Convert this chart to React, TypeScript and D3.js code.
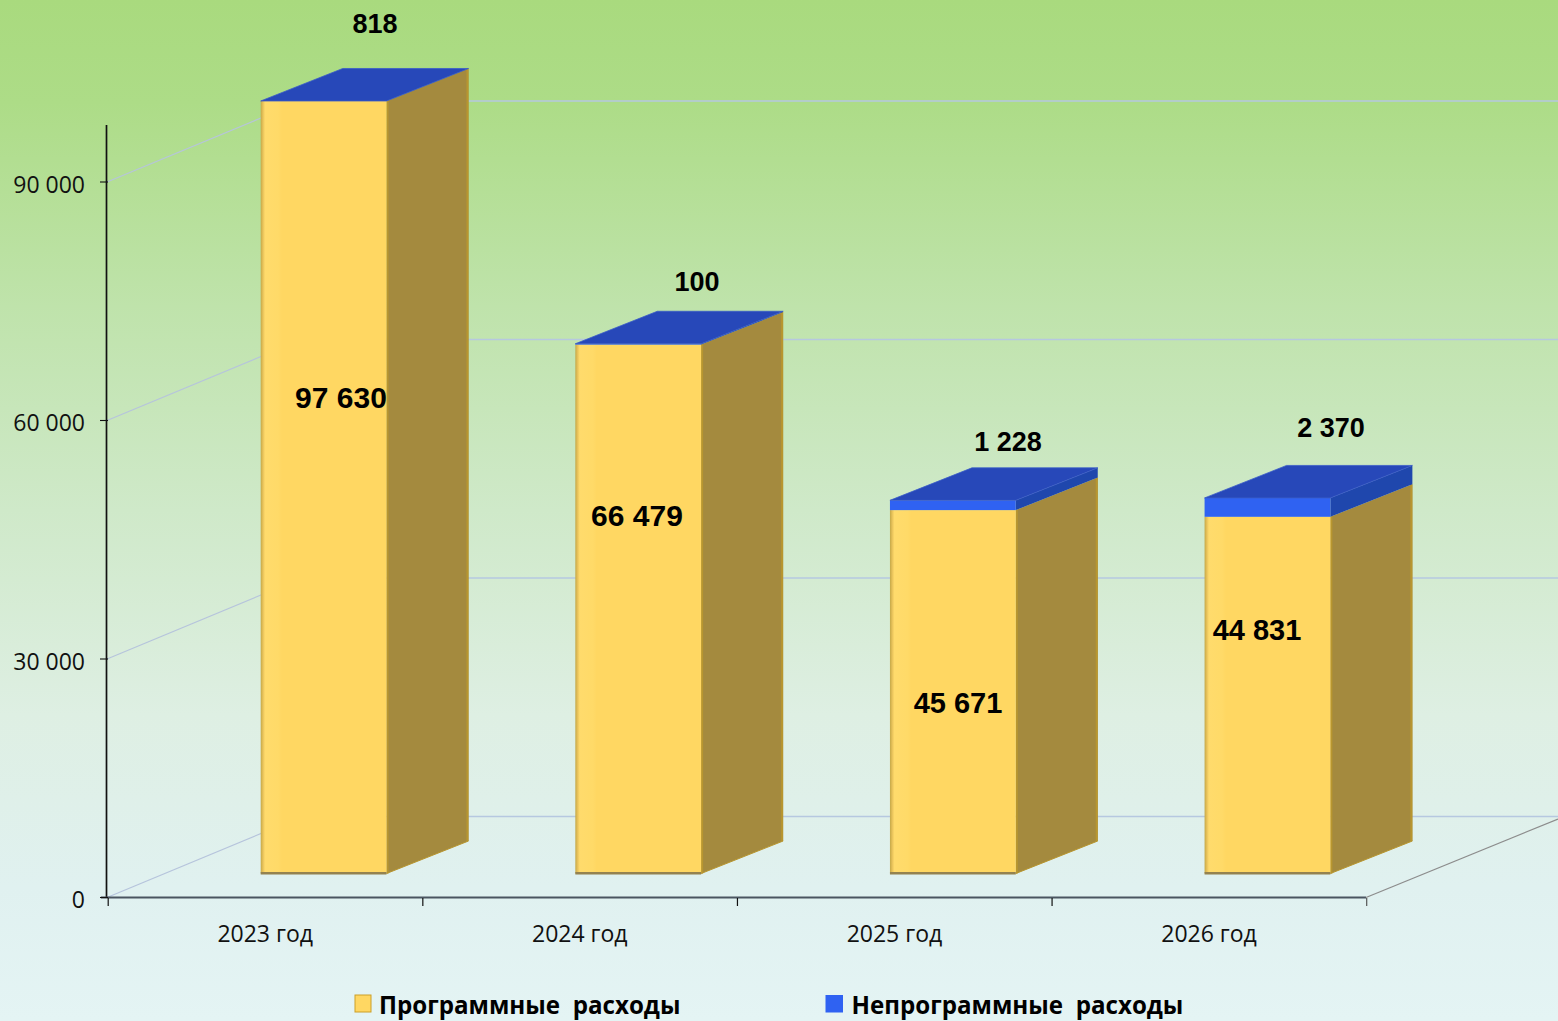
import React from "react";
import * as d3 from "d3";

const categories = ["2023 год", "2024 год", "2025 год", "2026 год"];
const programValues = [97630, 66479, 45671, 44831];
const nonProgramValues = [818, 100, 1228, 2370];
const yTicks = [0, 30000, 60000, 90000];
const seriesNames = ["Программные  расходы", "Непрограммные  расходы"];
const bigLabelPos: [number, number][] = [[341, 408], [637, 526], [958, 713], [1257, 640]];
const bigLabelSize = [30, 30, 29, 29];
const smallLabelPos: [number, number][] = [[375, 33], [697, 291], [1008, 451], [1331, 437]];

const W = 1558, H = 1021;
const AXIS_CLIP = 97090; // the value axis ends here: taller stacks are cut off
const x = d3.scaleBand<string>().domain(categories).range([108.5, 1367]);
const y = d3.scaleLinear().domain([0, 30000]).range([897.5, 659]);
const barY = d3.scaleLinear().domain([0, 30000]).range([873.5, 634.8]);
const fmt = (v: number) => d3.format(",")(v).replace(/,/g, " ");

const wallDx = 195, wallDy = -81;
const barOffset = 152.2, barW = 125.8, depthDx = 82, depthDy = -32.5;

const poly = (pts: number[][]) => pts.map(p => p.join(",")).join(" ");

function Box({ x0, top, bot, side, frontFill, edge }: any) {
  const x1 = x0 + barW;
  return (
    <g>
      <polygon points={poly([[x1, top], [x1 + depthDx, top + depthDy], [x1 + depthDx, bot + depthDy], [x1, bot]])} fill={side} />
      {edge && <line x1={x1 + depthDx - 1} y1={top + depthDy} x2={x1 + depthDx - 1} y2={bot + depthDy} stroke={edge} strokeWidth={2} />}
      {edge && <line x1={x1 + 1} y1={top} x2={x1 + 1} y2={bot} stroke={edge} strokeWidth={2} />}
      {edge && <line x1={x1} y1={bot} x2={x1 + depthDx} y2={bot + depthDy} stroke={edge} strokeWidth={1} />}
      <rect x={x0} y={top} width={barW} height={bot - top} fill={frontFill} />
    </g>
  );
}

export default function App() {
  const bars = categories.map((c, i) => {
    const x0 = x(c)! + barOffset;
    const h = (v: number) => barY(Math.min(v, AXIS_CLIP));
    return {
      c, i, x0,
      bot: h(0),
      yTop: h(programValues[i]),
      bTop: h(programValues[i] + nonProgramValues[i]),
    };
  });
  return (
    <svg width={W} height={H} style={{ position: "fixed", left: 0, top: 0 }}>
      <defs>
        <linearGradient id="bg" x1="0" y1="0" x2="0" y2="1">
          <stop offset="0" stopColor="#a9da7e" />
          <stop offset="0.1" stopColor="#addc87" />
          <stop offset="0.3" stopColor="#bfe3ab" />
          <stop offset="0.5" stopColor="#cfe9c9" />
          <stop offset="0.7" stopColor="#deefe3" />
          <stop offset="0.87" stopColor="#e0f1f0" />
          <stop offset="1" stopColor="#e4f4f4" />
        </linearGradient>
        <linearGradient id="yel" x1="0" y1="0" x2="1" y2="0">
          <stop offset="0" stopColor="#c4a848" />
          <stop offset="0.018" stopColor="#e8c25a" />
          <stop offset="0.035" stopColor="#ffdb6c" />
          <stop offset="0.14" stopColor="#ffda68" />
          <stop offset="0.17" stopColor="#ffd762" />
          <stop offset="1" stopColor="#ffd762" />
        </linearGradient>
      </defs>
      <rect width={W} height={H} fill="url(#bg)" />

      {yTicks.map(t => (
        <g key={t} fill="none">
          <line x1={107} y1={y(t)} x2={107 + wallDx} y2={y(t) + wallDy} stroke="#b6c4dc" strokeWidth={1.2} />
          <line x1={107 + wallDx} y1={y(t) + wallDy} x2={W} y2={y(t) + wallDy} stroke="#b6c8e0" strokeWidth={1.6} />
        </g>
      ))}

      {bars.map(b => (
        <g key={b.c}>
          <Box x0={b.x0} top={b.yTop} bot={b.bot} side="#a48a3e" edge="#b8962f" frontFill="url(#yel)" />
          <rect x={b.x0} y={b.bot - 1.5} width={barW} height={2.5} fill="#94824f" />
          {b.bTop < b.yTop && <Box x0={b.x0} top={b.bTop} bot={b.yTop} side="#1f47ad" frontFill="#2f62f2" />}
          <polygon
            points={poly([[b.x0, b.bTop], [b.x0 + depthDx, b.bTop + depthDy], [b.x0 + barW + depthDx, b.bTop + depthDy], [b.x0 + barW, b.bTop]])}
            fill="#2748b9"
            stroke="#3a5cc8"
            strokeWidth={0.8}
          />
        </g>
      ))}

      <line x1={106.5} y1={125} x2={106.5} y2={898} stroke="#111" strokeWidth={1.7} />
      <line x1={101} y1={897.5} x2={1366} y2={897.5} stroke="#4a5560" strokeWidth={2} />
      <line x1={1366} y1={897.5} x2={W} y2={819} stroke="#8c8c8c" strokeWidth={1.3} />
      {d3.range(5).map(k => {
        const tx = x(categories[0])! + k * x.step() - 0.3;
        return <line key={k} x1={tx} y1={898} x2={tx} y2={906} stroke={k === 4 ? "#555" : "#111"} strokeWidth={1.2} />;
      })}
      {yTicks.map(t => (
        <g key={t}>
          <line x1={100} y1={y(t)} x2={108} y2={y(t)} stroke="#111" strokeWidth={1.1} />
          <text x={85} y={y(t) + 10.5} textAnchor="end" fontFamily="'Open Sans'" fontSize={23} fill="#111">{fmt(t)}</text>
        </g>
      ))}
      {categories.map(c => (
        <text key={c} x={x(c)! + 156.7} y={942} textAnchor="middle" fontFamily="'Open Sans'" fontSize={23} fill="#111">{c}</text>
      ))}

      {programValues.map((v, i) => (
        <text key={i} x={bigLabelPos[i][0]} y={bigLabelPos[i][1]} textAnchor="middle" fontFamily="'Liberation Sans'" fontWeight="bold" fontSize={bigLabelSize[i]} fill="#000">{fmt(v)}</text>
      ))}
      {nonProgramValues.map((v, i) => (
        <text key={i} x={smallLabelPos[i][0]} y={smallLabelPos[i][1]} textAnchor="middle" fontFamily="'Liberation Sans'" fontWeight="bold" fontSize={27} fill="#000">{fmt(v)}</text>
      ))}

      <rect x={355} y={995} width={16} height={17} fill="#ffd762" stroke="#cc9f28" strokeWidth={1} />
      <text x={379} y={1014} fontFamily="'Open Sans'" fontWeight="bold" fontSize={24.15} fill="#000" style={{ whiteSpace: "pre" }}>{seriesNames[0]}</text>
      <rect x={825.5} y={995} width={17.5} height={17.5} fill="#2f62f2" />
      <text x={851.5} y={1014} fontFamily="'Open Sans'" fontWeight="bold" fontSize={24.15} fill="#000" style={{ whiteSpace: "pre" }}>{seriesNames[1]}</text>
    </svg>
  );
}
